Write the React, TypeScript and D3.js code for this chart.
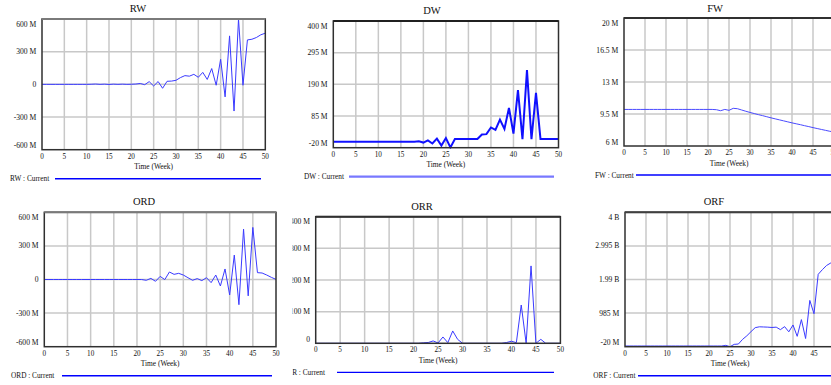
import React from "react";
import * as d3 from "d3";

// ---------- data (weeks 0..50) ----------
const WEEKS: number[] = d3.range(0, 51);

const RW_VALUES = [
  0, 0, 0, 0, 0, 0, 0, 0, 0, 0, 0,
  1, 3, 0, 2, -1, 2, 0, 2, 0, 1,
  3, 8, -3, 25, -15, 26, -36, 28, 30, 37,
  62, 80, 75, 92, 65, 110, 45, 145, -8, 230,
  -115, 445, -245, 600, -8, 408, 414, 430, 455, 470,
];
const DW_VALUES = [
  0, 0, 0, 0, 0, 0, 0, 0, 0, 0, 0,
  0, 0, 0, 0, 0, 0, 0, 0, 1, -3,
  4, -6, 10, -13, 12, -19, 9, 9, 9, 9,
  9, 9, 24, 25, 47, 39, 73, 42, 112, 27,
  171, 8, 237, 8, 162, 9, 9, 9, 9, 9,
];
const FW_VALUES = [
  10, 10, 10, 10, 10, 10, 10, 10, 10, 10, 10,
  10, 10, 10, 10, 10, 10, 10, 10, 10, 10,
  10, 9.97, 9.86, 10, 9.9, 10.12, 10.08, 9.94, 9.8, 9.67,
  9.55, 9.43, 9.32, 9.2, 9.08, 8.97, 8.86, 8.75, 8.64, 8.53,
  8.43, 8.33, 8.22, 8.12, 8.01, 7.91, 7.81, 7.71, 7.61, 7.52,
];
const ORD_VALUES = [
  0, 0, 0, 0, 0, 0, 0, 0, 0, 0, 0,
  0, 0, 0, 0, 0, 0, 0, 0, 0, 0,
  0, -7, 10, -16, 28, -1, 67, 46, 55, 40,
  16, -7, 8, -10, 16, -28, 40, -58, 94, -138,
  218, -225, 450, -146, 465, 61, 58, 40, 19, 1,
];
const ORR_VALUES = [
  0, 0, 0, 0, 0, 0, 0, 0, 0, 0, 0,
  0, 0, 0, 0, 0, 0, 0, 0, 0, 0,
  0, 1.5, 2.5, 7.5, 1, 20, 2, 39, 12.5, 0,
  0, 0, 0, 0, 0, 0, 0, 0, 2.5, 6.5,
  2, 121, 0, 244.5, 0, 12.5, 0, 0, 0, 0,
];
const ORF_VALUES = [
  0, 0, 0, 0, 0, 0, 0, 0, 0, 0, 0,
  0, 0, 0, 0, 0, 0, 0, 0, 0, 0,
  0, 0, 0, 20, -20, 50, 60, 200, 305, 430,
  550, 575, 570, 565, 555, 565, 490, 580, 425, 630,
  290, 790, 225, 1365, 965, 2145, 2285, 2410, 2485, 2540,
];

const X_TICKS = [0, 5, 10, 15, 20, 25, 30, 35, 40, 45, 50];

const RW_TICKS = [600, 300, 0, -300, -600];
const RW_TICK_LABELS = ["600 M", "300 M", "0", "-300 M", "-600 M"];
const DW_TICKS = [400, 295, 190, 85, -20];
const DW_TICK_LABELS = ["400 M", "295 M", "190 M", "85 M", "-20 M"];
const FW_TICKS = [20, 16.5, 13, 9.5, 6];
const FW_TICK_LABELS = ["20 M", "16.5 M", "13 M", "9.5 M", "6 M"];
const ORD_TICKS = [600, 300, 0, -300, -600];
const ORD_TICK_LABELS = ["600 M", "300 M", "0", "-300 M", "-600 M"];
const ORR_TICKS = [400, 300, 200, 100, 0];
const ORR_TICK_LABELS = ["400 M", "300 M", "200 M", "100 M", "0"];
const ORF_TICKS = [4000, 2995, 1990, 985, -20];
const ORF_TICK_LABELS = ["4 B", "2.995 B", "1.99 B", "985 M", "-20 M"];

// ---------- layout ----------
type PanelCfg = {
  title: string;
  values: number[];
  ticks: number[];
  tickLabels: string[];
  left: number; right: number; top: number; bottom: number;
  titleX: number; titleY: number;
  legendX: number; lineX1: number; lineX2: number;
  lineW: number; lineColor: string;
  legendW: number; legendColor: string;
  topColor: string;
  clipX?: number;
};

const FONT = "'Liberation Serif', 'Times New Roman', serif";

const PANELS: PanelCfg[] = [
  { title: "RW", values: RW_VALUES, ticks: RW_TICKS, tickLabels: RW_TICK_LABELS,
    left: 42, right: 265.3, top: 19, bottom: 149.7, titleX: 138, titleY: 11.5,
    legendX: 10, lineX1: 55, lineX2: 261, lineW: 1, lineColor: "#3a3aff", legendW: 1.4, legendColor: "#0000ff", topColor: "#7a7a7a" },
  { title: "DW", values: DW_VALUES, ticks: DW_TICKS, tickLabels: DW_TICK_LABELS,
    left: 333.3, right: 558.5, top: 21, bottom: 147.7, titleX: 432, titleY: 14,
    legendX: 304, lineX1: 349, lineX2: 554, lineW: 2, lineColor: "#1010ff", legendW: 2.2, legendColor: "#7878ff", topColor: "#202020" },
  { title: "FW", values: FW_VALUES, ticks: FW_TICKS, tickLabels: FW_TICK_LABELS,
    left: 624, right: 834, top: 18, bottom: 146, titleX: 715, titleY: 11.5,
    legendX: 595, lineX1: 636, lineX2: 831, lineW: 1, lineColor: "#4a4aff", legendW: 1.4, legendColor: "#0000ff", topColor: "#303030" },
  { title: "ORD", values: ORD_VALUES, ticks: ORD_TICKS, tickLabels: ORD_TICK_LABELS,
    left: 44.3, right: 276, top: 212.3, bottom: 346.7, titleX: 144, titleY: 204.5,
    legendX: 11, lineX1: 62, lineX2: 272, lineW: 1, lineColor: "#3a3aff", legendW: 1.4, legendColor: "#0000ff", topColor: "#7a7a7a" },
  { title: "ORR", values: ORR_VALUES, ticks: ORR_TICKS, tickLabels: ORR_TICK_LABELS,
    left: 315.7, right: 560.4, top: 216.7, bottom: 343.3, titleX: 422, titleY: 209.5,
    legendX: 282, lineX1: 337, lineX2: 554, lineW: 1, lineColor: "#3a3aff", legendW: 1.2, legendColor: "#0000ff", topColor: "#303030", clipX: 292.5 },
  { title: "ORF", values: ORF_VALUES, ticks: ORF_TICKS, tickLabels: ORF_TICK_LABELS,
    left: 625, right: 835, top: 212.3, bottom: 346.7, titleX: 714, titleY: 204.5,
    legendX: 593.3, lineX1: 638, lineX2: 831, lineW: 1, lineColor: "#3a3aff", legendW: 1.4, legendColor: "#0000ff", topColor: "#404040" },
];

function Panel({ cfg, idx }: { cfg: PanelCfg; idx: number }) {
  const yMax = cfg.ticks[0];
  const yMin = cfg.ticks[cfg.ticks.length - 1];
  const x = d3.scaleLinear().domain([0, 50]).range([cfg.left, cfg.right]);
  const y = d3.scaleLinear().domain([yMin, yMax]).range([cfg.bottom, cfg.top]);
  const line = d3
    .line<number>()
    .x((_, i) => x(WEEKS[i]))
    .y((d) => y(d));
  const clipId = `clip-${idx}`;
  const plotClip = `pclip-${idx}`;
  const lastTick = cfg.ticks.length - 1;
  return (
    <g clipPath={cfg.clipX !== undefined ? `url(#${clipId})` : undefined}>
      <defs>
        {cfg.clipX !== undefined && (
          <clipPath id={clipId}>
            <rect x={cfg.clipX} y={0} width={831} height={385} />
          </clipPath>
        )}
        <clipPath id={plotClip}>
          <rect x={cfg.left} y={cfg.top - 1} width={cfg.right - cfg.left} height={cfg.bottom - cfg.top + 2} />
        </clipPath>
      </defs>
      <rect x={cfg.left} y={cfg.top} width={cfg.right - cfg.left} height={cfg.bottom - cfg.top} fill="#fff" />
      {/* vertical grid */}
      {X_TICKS.slice(1, -1).map((t) => (
        <line key={`vx${t}`} x1={x(t)} x2={x(t)} y1={cfg.top} y2={cfg.bottom} stroke="#c8c8c8" strokeWidth={1.5} />
      ))}
      {/* horizontal grid */}
      {cfg.ticks.slice(1, -1).map((t) => (
        <line key={`hy${t}`} x1={cfg.left} x2={cfg.right} y1={y(t)} y2={y(t)} stroke="#c8c8c8" strokeWidth={1.5} />
      ))}
      {/* data */}
      <path
        d={line(cfg.values) || ""}
        fill="none"
        stroke={cfg.lineColor}
        strokeWidth={cfg.lineW}
        strokeLinejoin="miter"
        clipPath={`url(#${plotClip})`}
      />
      {/* frame */}
      <rect x={cfg.left} y={cfg.top} width={cfg.right - cfg.left} height={cfg.bottom - cfg.top}
        fill="none" stroke="#303030" strokeWidth={1.5} />
      <line x1={cfg.left} x2={cfg.right} y1={cfg.top} y2={cfg.top} stroke={cfg.topColor} strokeWidth={2} />
      {/* y tick labels */}
      {cfg.ticks.map((t, i) => {
        let yy = y(t);
        if (i === 0) yy += 5;
        if (i === lastTick) yy -= 4;
        return (
          <text key={`yl${i}`} x={cfg.left - 5.7} y={yy} textAnchor="end" dominantBaseline="central"
            fontFamily={FONT} fontSize={7.6} fill="#111">
            {cfg.tickLabels[i]}
          </text>
        );
      })}
      {/* x tick labels */}
      {X_TICKS.map((t) => (
        <text key={`xl${t}`} x={x(t)} y={cfg.bottom + 7} textAnchor="middle" dominantBaseline="central"
          fontFamily={FONT} fontSize={7.2} fill="#111">
          {t}
        </text>
      ))}
      <text x={(cfg.left + cfg.right) / 2} y={cfg.bottom + 17} textAnchor="middle" dominantBaseline="central"
        fontFamily={FONT} fontSize={7.4} fill="#111">
        Time (Week)
      </text>
      {/* title */}
      <text x={cfg.titleX} y={cfg.titleY} textAnchor="middle" fontFamily={FONT} fontSize={10.5} fill="#111">
        {cfg.title}
      </text>
      {/* legend */}
      <text x={cfg.legendX} y={cfg.bottom + 29} dominantBaseline="central" fontFamily={FONT} fontSize={7.3} fill="#111">
        {cfg.title} : Current
      </text>
      <line x1={cfg.lineX1} x2={cfg.lineX2} y1={cfg.bottom + 29} y2={cfg.bottom + 29}
        stroke={cfg.legendColor} strokeWidth={cfg.legendW} />
    </g>
  );
}

export default function App() {
  return (
    <svg
      width={831}
      height={385}
      style={{ position: "absolute", left: 0, top: 0, background: "#fff" }}
      xmlns="http://www.w3.org/2000/svg"
    >
      <rect x={0} y={0} width={831} height={385} fill="#fff" />
      {PANELS.map((p, i) => (
        <Panel key={p.title} cfg={p} idx={i} />
      ))}
    </svg>
  );
}
